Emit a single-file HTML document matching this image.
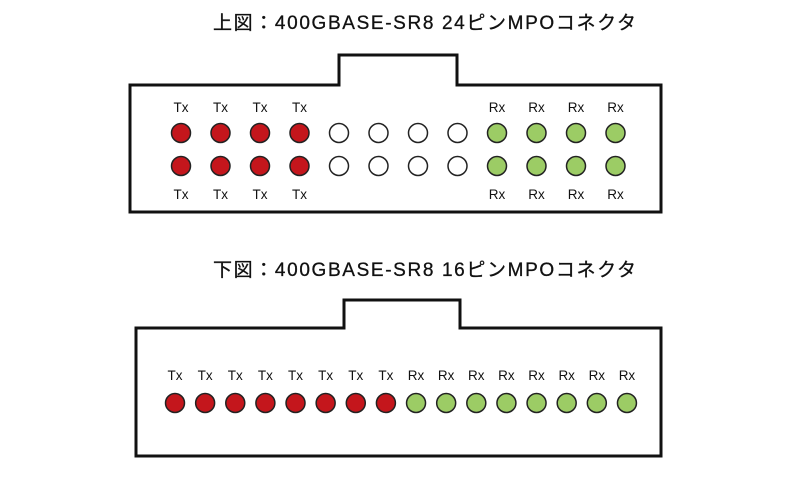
<!DOCTYPE html>
<html><head><meta charset="utf-8"><style>
body{margin:0;background:#fff;width:800px;height:472px;overflow:hidden}
text{font-family:"Liberation Sans","Noto Sans CJK JP",sans-serif}
</style></head><body>
<svg width="800" height="472" viewBox="0 0 800 472">
<text x="213" y="29" font-size="19" fill="#111" stroke="#111" stroke-width="0.3" textLength="423">上図：400GBASE-SR8  24ピンMPOコネクタ</text>
<text x="213" y="276" font-size="19" fill="#111" stroke="#111" stroke-width="0.3" textLength="423">下図：400GBASE-SR8  16ピンMPOコネクタ</text>
<path d="M130 85 H339 V55 H457 V85 H661 V212 H130 Z" fill="#fff" stroke="#111" stroke-width="3"/>
<path d="M136 328 H344 V300 H460 V328 H661 V456 H136 Z" fill="#fff" stroke="#111" stroke-width="3"/>
<g id="top"></g>
<g id="bot"></g>
</svg>
<script>
var ns="http://www.w3.org/2000/svg";
function c(g,x,y,f){var e=document.createElementNS(ns,"circle");e.setAttribute("cx",x);e.setAttribute("cy",y);e.setAttribute("r",9.5);e.setAttribute("fill",f);e.setAttribute("stroke","#222");e.setAttribute("stroke-width","1.5");g.appendChild(e);}
function t(g,x,y,s){var e=document.createElementNS(ns,"text");e.setAttribute("x",x);e.setAttribute("y",y);e.setAttribute("font-size","13.5");e.setAttribute("text-anchor","middle");e.setAttribute("fill","#111");e.textContent=s;g.appendChild(e);}
var g=document.getElementById("top");
for(var i=0;i<12;i++){var x=181+i*39.5;var f=i<4?"#c4161c":(i<8?"#fff":"#9ccc65");
c(g,x,133,f);c(g,x,166,f);
if(i<4){t(g,x,112,"Tx");t(g,x,199,"Tx");}else if(i>=8){t(g,x,112,"Rx");t(g,x,199,"Rx");}}
var b=document.getElementById("bot");
for(var i=0;i<16;i++){var x=175+i*30.13;c(b,x,403,i<8?"#c4161c":"#9ccc65");t(b,x,380,i<8?"Tx":"Rx");}
</script>
</body></html>
